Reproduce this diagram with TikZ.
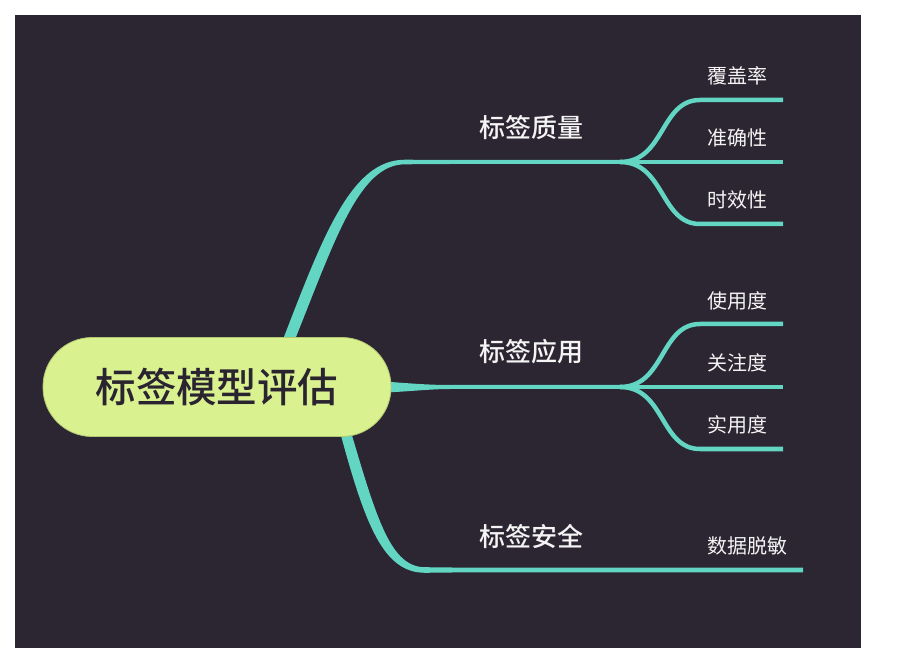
\documentclass[tikz,border=0pt]{standalone}
\usepackage{fontspec}
\newfontfamily\cjk{Noto Sans CJK SC}
\newfontfamily\cjkmed[UprightFont={* Medium}]{Noto Sans CJK SC}
\definecolor{bg}{HTML}{2C2532}
\definecolor{br}{HTML}{62D6C2}
\definecolor{rootfill}{HTML}{D9F28F}
\definecolor{rootdraw}{HTML}{B4C772}
\definecolor{txt}{HTML}{F4F4F4}
\definecolor{roottxt}{HTML}{2A2330}
\begin{document}
\begin{tikzpicture}[x=1pt,y=-1pt,
  subline/.style={draw=br, line width=4.5pt},
  branch/.style={fill=br},
  lvla/.style={anchor=west, inner sep=0pt, text=txt, font=\cjkmed\fontsize{26}{30}\selectfont},
  lvlb/.style={anchor=west, inner sep=0pt, text=txt, font=\cjk\fontsize{20}{24}\selectfont},
  rootbox/.style={draw=rootdraw, line width=0.8pt, fill=rootfill, rounded corners=49pt,
    minimum width=348pt, minimum height=99pt, inner sep=0pt, text=roottxt,
    font=\cjkmed\fontsize{40.5}{48}\selectfont}]
\useasboundingbox (0,0) rectangle (903,660);
\fill[white] (0,0) rectangle (903,660);
\fill[bg] (15,15) rectangle (861,648);

% fork points and ends
\coordinate (f1) at (620,162);
\coordinate (f2) at (620,387);
\coordinate (a1) at (700,100); \coordinate (e1) at (783,100);
\coordinate (e2) at (783,162);
\coordinate (a3) at (700,224); \coordinate (e3) at (783,224);
\coordinate (a4) at (700,324); \coordinate (e4) at (783,324);
\coordinate (e5) at (783,387);
\coordinate (a6) at (700,449); \coordinate (e6) at (783,449);

% main branches (tapered)
\fill[branch] (282,342) .. controls (323,236) and (351,159.7) .. (405,159.7)
  -- (450,160) -- (622,160) -- (622,164) -- (450,164) -- (405,164.3)
  .. controls (359,164.3) and (335,240) .. (294,342) -- cycle;
\fill[branch] (385,381.5) .. controls (410,383.5) and (430,385) .. (450,385)
  -- (622,385) -- (622,389) -- (450,389)
  .. controls (430,389) and (410,391.5) .. (385,392.5) -- cycle;
\fill[branch] (340,432) .. controls (365,524) and (383,572.8) .. (425,572.8)
  -- (470,572.3) -- (803,572.3) -- (803,567.7) -- (470,567.7) -- (425,567.2)
  .. controls (391,567.2) and (377,520) .. (351,432) -- cycle;

% sub branches
\draw[subline] (f1) .. controls (665,162) and (660,100) .. (a1) -- (e1);
\draw[subline] (f1) -- (e2);
\draw[subline] (f1) .. controls (665,162) and (660,224) .. (a3) -- (e3);
\draw[subline] (f2) .. controls (665,387) and (660,324) .. (a4) -- (e4);
\draw[subline] (f2) -- (e5);
\draw[subline] (f2) .. controls (665,387) and (660,449) .. (a6) -- (e6);

% root
\node[rootbox] (root) at (217,387) {标签模型评估};

% labels
\node[lvla] (q) at (479,128) {标签质量};
\node[lvla] (u) at (479,352) {标签应用};
\node[lvla] (s) at (479,536) {标签安全};
\node[lvlb] (q1) at (707,76) {覆盖率};
\node[lvlb] (q2) at (707,138) {准确性};
\node[lvlb] (q3) at (707,200) {时效性};
\node[lvlb] (u1) at (707,301) {使用度};
\node[lvlb] (u2) at (707,363) {关注度};
\node[lvlb] (u3) at (707,425) {实用度};
\node[lvlb] (s1) at (707,546) {数据脱敏};
\end{tikzpicture}
\end{document}
